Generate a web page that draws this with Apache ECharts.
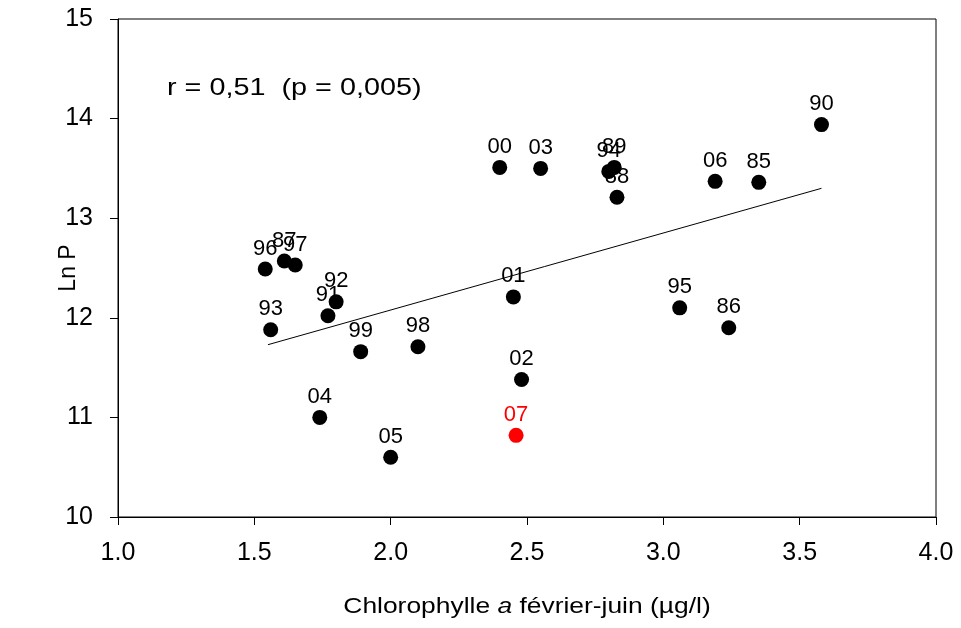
<!DOCTYPE html>
<html><head><meta charset="utf-8">
<script src="https://cdn.jsdelivr.net/npm/echarts@6/dist/echarts.min.js"></script>
<style>html,body{margin:0;padding:0;background:#fff}#c{width:961px;height:628px}</style>
</head><body><div id="c"></div>
<script>
const years = ['96','87','97','93','91','92','99','98','04','05','00','03','01','02','07','94','89','88','06','85','90','95','86'];
const chl   = [1.54,1.61,1.65,1.56,1.77,1.80,1.89,2.10,1.74,2.00,2.40,2.55,2.45,2.48,2.46,2.80,2.82,2.83,3.19,3.35,3.58,3.06,3.24];
const lnP   = [12.49,12.57,12.53,11.88,12.02,12.16,11.66,11.71,11.00,10.60,13.51,13.50,12.21,11.38,10.82,13.47,13.51,13.21,13.37,13.36,13.94,12.10,11.90];
const highlight = ['07'];
const trendX = [1.55, 3.58];
const trendY = [11.73, 13.30];
const xTicks = [1.0,1.5,2.0,2.5,3.0,3.5,4.0];
const yTicks = [10,11,12,13,14,15];

const F = 'Liberation Sans, Arial, sans-serif';
const pts = years.map((y,i)=>{
  const red = highlight.includes(y);
  return {value:[chl[i], lnP[i]], name:y,
    itemStyle:{color: red ? '#ff0000' : '#000', opacity:1},
    label:{color: red ? '#ff0000' : '#000'}};
});
const chart = echarts.init(document.getElementById('c'));
chart.setOption({
  animation:false,
  grid:{left:118,right:25,top:19,bottom:111,show:true,borderColor:'#000',borderWidth:1},
  xAxis:{type:'value',min:xTicks[0],max:xTicks[xTicks.length-1],interval:0.5,
    axisLine:{show:true,onZero:false,lineStyle:{color:'#000',width:1}},
    axisTick:{show:true,length:8,lineStyle:{color:'#000'}},
    splitLine:{show:false},
    axisLabel:{formatter:v=>v.toFixed(1),color:'#000',fontSize:25,fontFamily:F,margin:24}},
  yAxis:{type:'value',min:yTicks[0],max:yTicks[yTicks.length-1],interval:1,
    axisLine:{show:true,onZero:false,lineStyle:{color:'#000',width:1}},
    axisTick:{show:true,length:8,lineStyle:{color:'#000'}},
    splitLine:{show:false},
    axisLabel:{color:'#000',fontSize:25,fontFamily:F,margin:25}},
  graphic:[
    {type:'text',x:167,y:88,scaleX:1.2,
     style:{text:'r = 0,51  (p = 0,005)',fontSize:24,fontFamily:F,fill:'#000',verticalAlign:'middle'}},
    {type:'text',x:527,y:607,scaleX:1.2,
     style:{text:'Chlorophylle {i|a} février-juin (µg/l)',fontSize:22,fontFamily:F,fill:'#000',
       align:'center',verticalAlign:'middle',
       rich:{i:{fontStyle:'italic',fontSize:22,fontFamily:F,fill:'#000'}}}},
    {type:'text',x:69,y:268,rotation:Math.PI/2,
     style:{text:'Ln P',fontSize:23,fontFamily:F,fill:'#000',align:'center',verticalAlign:'middle'}}
  ],
  series:[
    {type:'line',data:trendX.map((x,i)=>[x,trendY[i]]),symbol:'none',
     lineStyle:{color:'#000',width:1},silent:true,z:1},
    {type:'scatter',data:pts,symbolSize:15,z:3,
     label:{show:true,position:'top',distance:2,formatter:p=>p.name,fontSize:22,fontFamily:F,opacity:1}}
  ]
});
</script></body></html>
